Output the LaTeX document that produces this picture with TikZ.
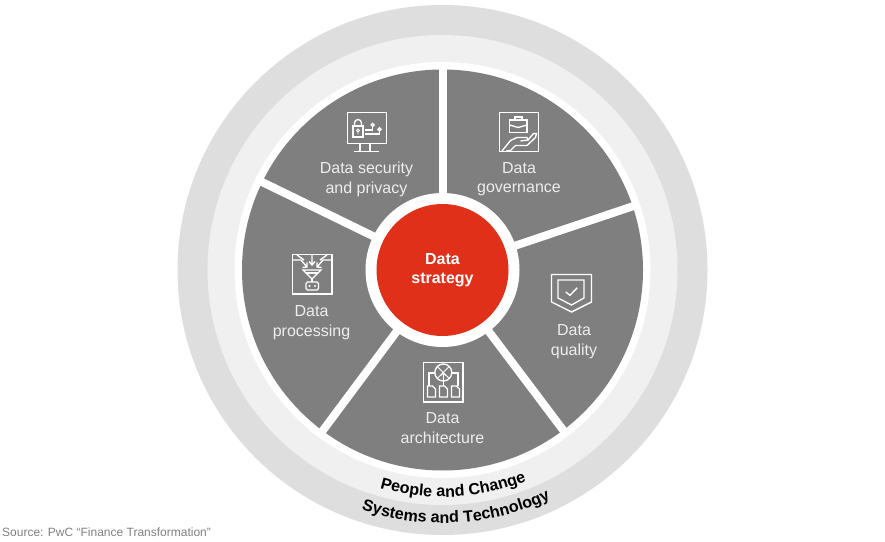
\documentclass[tikz,border=0pt]{standalone}
\usepackage{fontspec}
\setmainfont{Liberation Sans}
\usetikzlibrary{decorations.text}
\definecolor{ringdark}{HTML}{DEDEDE}
\definecolor{ringlight}{HTML}{F0F0F0}
\definecolor{sector}{HTML}{7F7F7F}
\definecolor{pwcred}{HTML}{E03019}
\newcommand\ringfont{\bfseries\fontsize{16.1}{18}\selectfont}
\tikzset{
  lab/.style={text=white!93!black,font=\fontsize{16}{19.5}\selectfont,align=center,inner sep=0pt},
  core/.style={text=white,font=\bfseries\fontsize{16}{19}\selectfont,align=center,inner sep=0pt},
  gap/.style={draw=white,line width=8pt},
  ico/.style={draw=white,line width=1.35pt,line join=miter},
  icoscope/.style={shift={#1},x=1pt,y=-1pt},
}
\begin{document}
\begin{tikzpicture}[x=1pt,y=1pt]
\useasboundingbox (0,0) rectangle (885,541);
\coordinate (c) at (442.5,271);
% rings
\fill[ringdark] (c) circle[radius=265pt];
\fill[ringlight] (c) circle[radius=235pt];
\fill[white] (c) circle[radius=208pt];
\fill[sector] (c) circle[radius=200.5pt];
% spokes
\foreach \a in {90,18.5,-53,-126.7,154}
  \draw[gap] (c) -- ++(\a:204pt);
\fill[white] (c) circle[radius=77pt];
\fill[pwcred] (c) circle[radius=66pt];
% labels
\node[core] (strategy) at (442.5,270.5) {Data\\strategy};
\node[lab] (security) at (366.5,361.5) {Data security\\and privacy};
\node[lab] (governance) at (519,362) {Data\\governance};
\node[lab] (processing) at (311.5,218.5) {Data\\processing};
\node[lab] (quality) at (574,199.5) {Data\\quality};
\node[lab] (architecture) at (442.5,113) {Data\\architecture};
\node[anchor=base west,inner sep=0pt,text=black!50,font=\fontsize{12}{14}\selectfont] (source) at (2,4.5) {Source: PwC “Finance Transformation”};
% curved labels
\path[decorate,decoration={text along path,text={|\ringfont|People and Change}}]
  ([shift={(-106:227pt)}]c) arc[start angle=-106,end angle=-62,radius=227pt];
\path[decorate,decoration={text along path,text={|\ringfont|Systems and Technology}}]
  ([shift={(-108.7:253pt)}]c) arc[start angle=-108.7,end angle=-58,radius=253pt];
% security icon
\begin{scope}[icoscope={(340,436)}]
  \draw[ico] (7.5,7.5) rectangle (46.5,38.5);
  \draw[ico] (20,38.5) -- (20,46.5) (30,38.5) -- (30,46.5) (14,46.5) -- (39,46.5);
  \draw[ico] (13,21) rectangle (23,32);
  \draw[ico] (14.5,21) -- (14.5,18) arc[start angle=180,end angle=0,radius=3.5pt] -- (21.5,21);
  \draw[ico,line width=.9pt] (18,25.5) circle[radius=1.4pt] (18,27) -- (18,29.5);
  \draw[ico] (25,25) -- (32.7,25) -- (32.7,21.6);
  \draw[ico] (32.7,20) circle[radius=1.5pt];
  \draw[ico] (25,29) -- (39.5,29) -- (39.5,26);
  \draw[ico] (39.5,24.4) circle[radius=1.5pt];
\end{scope}
% governance icon
\begin{scope}[icoscope={(492,436)}]
  \draw[ico] (7.5,7.5) rectangle (46.5,46.5);
  \draw[ico] (17.5,15) rectangle (35,27.5);
  \draw[ico] (23,15) -- (23,12) -- (30,12) -- (30,15);
  \draw[ico] (17.5,20) -- (26.3,22.5) -- (35,20);
  \draw[ico] (10,46) -- (18.5,35.5) -- (25,32.5) -- (35,32.5) -- (36,35) -- (28.5,36);
  \draw[ico] (36,35) -- (41.5,28.5) -- (44.5,28.5) -- (43.5,32.5) -- (35,40.5) -- (23.5,40.5) -- (18.5,45.5) -- (14,46);
\end{scope}
% processing icon
\begin{scope}[icoscope={(285,294)}]
  \draw[ico] (7.5,7.5) rectangle (47,47);
  \draw[ico] (18,23) -- (36,23) -- (27,32) -- cycle;
  \draw[ico] (21,26) -- (33,26);
  \draw[ico] (27,32) -- (27,35);
  \draw[ico,rounded corners=1.5pt] (21,35) rectangle (33.5,43);
  \fill[white] (24.5,39) circle[radius=1.1pt] (30,39) circle[radius=1.1pt];
  \draw[ico] (27,8) -- (27,18) (24,14.5) -- (27,18) -- (30,14.5);
  \draw[ico] (8,13) -- (16,13) -- (22,20) (17.5,20.5) -- (22,20) -- (22,15.5);
  \draw[ico] (46,13) -- (38,13) -- (32,20) (36.5,20.5) -- (32,20) -- (32,15.5);
  \draw[ico] (12,8) -- (19,13) (42,8) -- (35,13);
\end{scope}
% quality icon
\begin{scope}[icoscope={(544,274)}]
  \draw[ico] (7.5,7.5) -- (47.5,7.5) -- (47.5,35) -- (27.5,45) -- (7.5,35) -- cycle;
  \draw[ico] (14,13) -- (40,13) -- (40,31) -- (27.5,38) -- (14,31) -- cycle;
  \draw[ico] (21.7,25) -- (26,28.3) -- (33.3,20.7);
\end{scope}
% architecture icon
\begin{scope}[icoscope={(416,186)}]
  \draw[ico] (7.5,7.5) rectangle (47,47);
  \draw[ico] (27.3,17.5) circle[radius=8.5pt];
  \draw[ico,line width=.9pt] (21.3,11.5) -- (33.3,23.5) (33.3,11.5) -- (21.3,23.5);
  \draw[ico,line width=.9pt] (27.3,26) -- (27.3,18) (24.8,20.5) -- (27.3,18) -- (29.8,20.5);
  \draw[ico] (19,18) -- (13,18) -- (13,30.5);
  \draw[ico] (36,18) -- (42,18) -- (42,30.5);
  \draw[ico] (27.3,26) -- (27.3,30.5);
  \foreach \x in {11.5,23.5,35.5} {
    \draw[ico] (\x,31) -- (\x+5,31) -- (\x+8,34) -- (\x+8,42) -- (\x,42) -- cycle;
  }
\end{scope}
\end{tikzpicture}
\end{document}
